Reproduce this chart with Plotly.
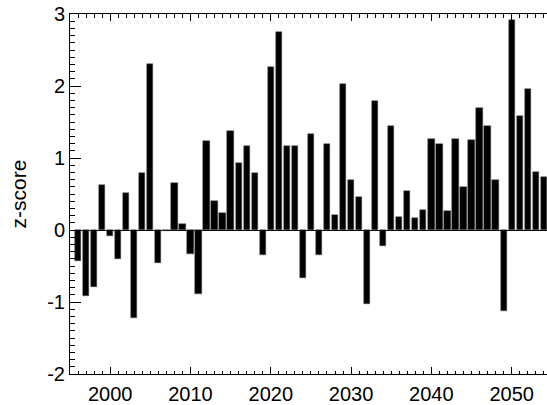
import plotly.graph_objects as go

years = list(range(1996, 2055))
zscores = [
    -0.43, -0.92, -0.79, 0.63, -0.08, -0.40, 0.51, -1.22, 0.79, 2.31,
    -0.46, -0.02, 0.65, 0.09, -0.33, -0.89, 1.24, 0.40, 0.23, 1.37,
    0.93, 1.16, 0.79, -0.35, 2.27, 2.75, 1.17, 1.17, -0.67, 1.33,
    -0.35, 1.20, 0.21, 2.03, 0.70, 0.46, -1.03, 1.79, -0.22, 1.45,
    0.18, 0.54, 0.16, 0.28, 1.26, 1.19, 0.26, 1.27, 0.60, 1.25,
    1.69, 1.44, 0.69, -1.12, 2.92, 1.58, 1.96, 0.81, 0.73,
]
x_ticks = [2000, 2010, 2020, 2030, 2040, 2050]
y_ticks = [-2, -1, 0, 1, 2, 3]

font_family = "Liberation Sans, Arial, Helvetica, sans-serif"

fig = go.Figure(
    go.Bar(
        x=years,
        y=zscores,
        width=0.78,
        marker=dict(color="black", line=dict(color="#555555", width=0.5)),
    )
)

fig.update_layout(
    width=547,
    height=405,
    margin=dict(l=70, r=0, t=14, b=31, autoexpand=False),
    plot_bgcolor="white",
    paper_bgcolor="white",
    showlegend=False,
    font=dict(family=font_family, size=19, color="black"),
    bargap=0,
)

fig.update_xaxes(
    range=[1995, 2054.4],
    tickvals=x_ticks,
    ticktext=[str(v) for v in x_ticks],
    ticks="inside",
    ticklen=7,
    tickwidth=1,
    tickcolor="black",
    showline=True,
    linecolor="black",
    linewidth=1,
    mirror="ticks",
    showgrid=False,
    zeroline=False,
    automargin=False,
    ticklabelstandoff=2,
    minor=dict(dtick=1, tick0=1995, ticks="inside", ticklen=3.5, tickcolor="black", tickwidth=1, showgrid=False),
    tickfont=dict(size=20),
)

fig.update_yaxes(
    range=[-2, 3],
    tickvals=y_ticks,
    ticktext=[str(v) for v in y_ticks],
    ticks="inside",
    ticklen=11,
    tickwidth=1,
    tickcolor="black",
    showline=True,
    linecolor="black",
    linewidth=1,
    mirror=False,
    showgrid=False,
    zeroline=True,
    zerolinecolor="black",
    zerolinewidth=1,
    automargin=False,
    minor=dict(dtick=0.1, tick0=0, ticks="inside", ticklen=5, tickcolor="black", tickwidth=1, showgrid=False),
    tickfont=dict(size=20),
    title=dict(text="z-score", font=dict(size=21), standoff=14),
)

fig.write_html(
    "out.html",
    config={"displayModeBar": False},
    post_script="document.body.style.margin='0';document.body.style.overflow='hidden';",
)
